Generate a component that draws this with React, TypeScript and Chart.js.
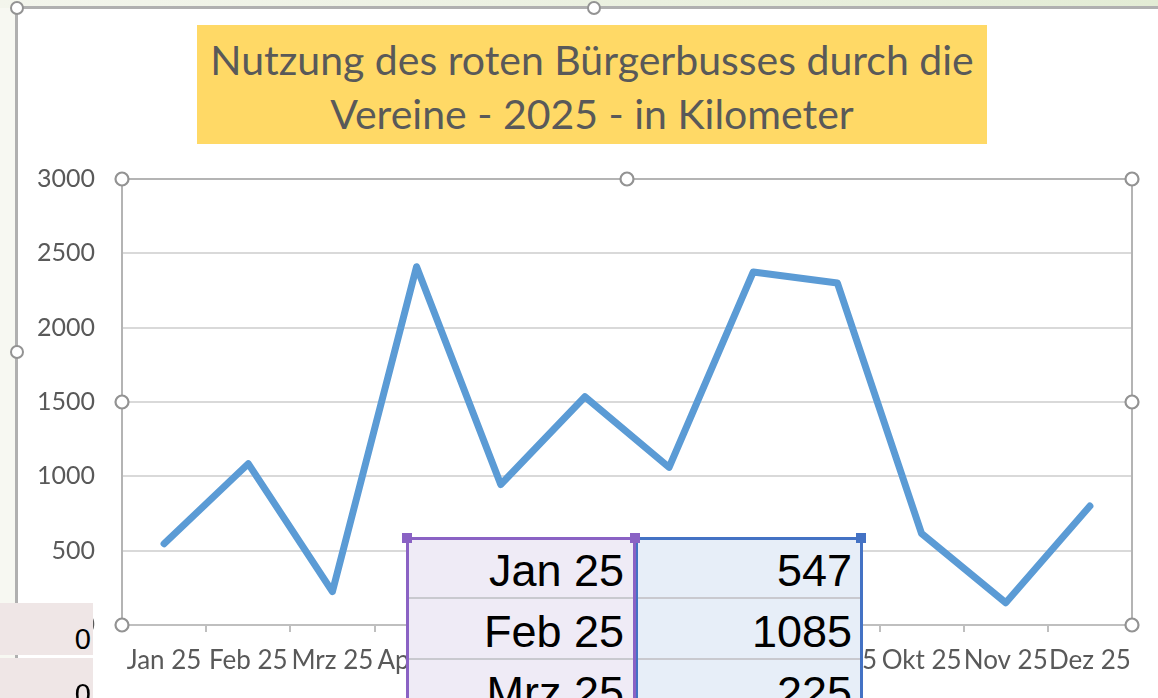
import React, { useEffect, useRef } from "react";
import { Chart, registerables } from "chart.js";

Chart.register(...registerables);

const TITLE_LINES = ["Nutzung des roten Bürgerbusses durch die", "Vereine - 2025 - in Kilometer"];
const MONTHS = ["Jan 25", "Feb 25", "Mrz 25", "Apr 25", "Mai 25", "Jun 25", "Jul 25", "Aug 25", "Sep 25", "Okt 25", "Nov 25", "Dez 25"];
const KILOMETERS = [547, 1085, 225, 2410, 945, 1535, 1060, 2375, 2300, 615, 150, 800];
const Y_MIN = 0;
const Y_MAX = 3000;
const Y_STEP = 500;
const TABLE_MONTHS = ["Jan 25", "Feb 25", "Mrz 25"];
const TABLE_VALUES = ["547", "1085", "225"];
const SIDE_CELLS = ["0", "0"];

const selectionPlugin = {
  id: "selection",
  afterDraw(chart: any) {
    const { ctx, chartArea: a } = chart;
    ctx.save();
    ctx.strokeStyle = "#b4b4b4";
    ctx.lineWidth = 2;
    ctx.beginPath();
    ctx.moveTo(a.left, a.bottom);
    ctx.lineTo(a.left, a.top);
    ctx.lineTo(a.right, a.top);
    ctx.lineTo(a.right, a.bottom);
    ctx.stroke();
    const mx = (a.left + a.right) / 2;
    const my = (a.top + a.bottom) / 2;
    const pts = [
      [a.left, a.top], [mx, a.top], [a.right, a.top],
      [a.left, my], [a.right, my],
      [a.left, a.bottom], [a.right, a.bottom],
    ];
    for (const [x, y] of pts) {
      ctx.beginPath();
      ctx.arc(x, y, 6.5, 0, Math.PI * 2);
      ctx.fillStyle = "#ffffff";
      ctx.fill();
      ctx.lineWidth = 2.2;
      ctx.strokeStyle = "#939393";
      ctx.stroke();
    }
    ctx.restore();
  },
};

function Handle({ x, y }: { x: number; y: number }) {
  return (
    <div
      style={{
        position: "absolute",
        left: x - 7,
        top: y - 7,
        width: 10,
        height: 10,
        borderRadius: "50%",
        background: "#fff",
        border: "2px solid #939393",
      }}
    />
  );
}

function Square({ x, y, color }: { x: number; y: number; color: string }) {
  return (
    <div style={{ position: "absolute", left: x - 5, top: y - 5, width: 10, height: 10, background: color }} />
  );
}

export default function App() {
  const ref = useRef<HTMLCanvasElement>(null);

  useEffect(() => {
    const chart = new Chart(ref.current as HTMLCanvasElement, {
      type: "line",
      data: {
        labels: MONTHS,
        datasets: [
          {
            data: KILOMETERS,
            borderColor: "#5B9BD5",
            borderWidth: 7,
            pointRadius: 0,
            tension: 0,
            borderCapStyle: "round",
            borderJoinStyle: "round",
            fill: false,
          },
        ],
      },
      options: {
        responsive: false,
        animation: false,
        layout: { padding: { left: 0, top: 179, right: 26, bottom: 0 } },
        plugins: { legend: { display: false }, title: { display: false }, tooltip: { enabled: false } },
        scales: {
          x: {
            offset: true,
            grid: { offset: true, drawOnChartArea: false, drawTicks: true, tickLength: 7, color: "#bfbfbf", lineWidth: 2 },
            border: { display: true, color: "#bfbfbf", width: 2 },
            ticks: {
              color: "#595959",
              font: { family: "Lato", size: 26 },
              padding: 13,
              maxRotation: 0,
              autoSkip: false,
            },
            afterFit: (s: any) => {
              s.height = 73;
            },
          },
          y: {
            min: Y_MIN,
            max: Y_MAX,
            ticks: {
              stepSize: Y_STEP,
              color: "#595959",
              font: { family: "Lato", size: 25 },
              padding: 27,
              callback: (v: any) => String(v),
            },
            grid: { color: "#d9d9d9", lineWidth: 2, drawTicks: false },
            border: { display: false },
            afterFit: (s: any) => {
              s.width = 122;
            },
          },
        },
      },
      plugins: [selectionPlugin],
    } as any);
    return () => chart.destroy();
  }, []);

  return (
    <div
      style={{
        position: "fixed",
        left: 0,
        top: 0,
        width: 1158,
        height: 698,
        overflow: "hidden",
        background: "#f7f8f2",
      }}
    >
      <div
        style={{
          position: "absolute",
          left: 0,
          top: 0,
          width: 1158,
          height: 8,
          background: "linear-gradient(to right, #f3f5ec, #e3ecd5)",
        }}
      />
      <div
        style={{
          position: "absolute",
          left: 15,
          top: 6,
          width: 1300,
          height: 800,
          background: "#ffffff",
          borderLeft: "3px solid #b0b0b0",
          borderTop: "3px solid #b0b0b0",
        }}
      />
      <canvas ref={ref} width={1158} height={698} style={{ position: "absolute", left: 0, top: 0 }} />
      <div
        style={{
          position: "absolute",
          left: 197,
          top: 25,
          width: 790,
          height: 119,
          background: "#FFD966",
          color: "#595959",
          fontFamily: "Lato",
          fontSize: 41,
          lineHeight: "54px",
          textAlign: "center",
          paddingTop: 8,
          boxSizing: "border-box",
          whiteSpace: "nowrap",
        }}
      >
        {TITLE_LINES.map((l, i) => (
          <div key={i}>{l}</div>
        ))}
      </div>
      <Handle x={17} y={8} />
      <Handle x={594} y={8} />
      <Handle x={17} y={352} />

      {SIDE_CELLS.map((v, i) => (
        <div
          key={"s" + i}
          style={{
            position: "absolute",
            left: 0,
            top: 603 + i * 55,
            width: 93,
            height: 52,
            background: "#EFE6E6",
            color: "#000",
            fontFamily: "Liberation Sans",
            fontSize: 29,
            lineHeight: "72px",
            textAlign: "right",
            paddingRight: 2,
            boxSizing: "border-box",
            overflow: "hidden",
          }}
        >
          {v}
        </div>
      ))}

      <div
        style={{
          position: "absolute",
          left: 406,
          top: 537,
          width: 230,
          height: 200,
          background: "#EFEBF6",
          borderLeft: "3px solid #8A62C4",
          borderRight: "3px solid #8A62C4",
          borderTop: "3px solid #8A62C4",
          boxSizing: "border-box",
        }}
      />
      <div
        style={{
          position: "absolute",
          left: 636,
          top: 537,
          width: 227,
          height: 200,
          background: "#E7EEF8",
          borderLeft: "2px solid #4472C4",
          borderRight: "3px solid #4472C4",
          borderTop: "3px solid #4472C4",
          boxSizing: "border-box",
        }}
      />
      {TABLE_MONTHS.map((m, i) => (
        <React.Fragment key={"r" + i}>
          <div
            style={{
              position: "absolute",
              left: 409,
              top: 540 + i * 61,
              width: 224,
              height: 59,
              borderBottom: "2px solid #c9c9cf",
              fontFamily: "Liberation Sans",
              fontSize: 45,
              lineHeight: "62px",
              textAlign: "right",
              paddingRight: 9,
              boxSizing: "border-box",
              color: "#000",
              overflow: "hidden",
            }}
          >
            {m}
          </div>
          <div
            style={{
              position: "absolute",
              left: 638,
              top: 540 + i * 61,
              width: 222,
              height: 59,
              borderBottom: "2px solid #c9c9cf",
              fontFamily: "Liberation Sans",
              fontSize: 45,
              lineHeight: "62px",
              textAlign: "right",
              paddingRight: 8,
              boxSizing: "border-box",
              color: "#000",
              overflow: "hidden",
            }}
          >
            {TABLE_VALUES[i]}
          </div>
        </React.Fragment>
      ))}
      <Square x={407} y={538} color="#8A62C4" />
      <Square x={635} y={538} color="#8A62C4" />
      <Square x={861} y={538} color="#4472C4" />
    </div>
  );
}
